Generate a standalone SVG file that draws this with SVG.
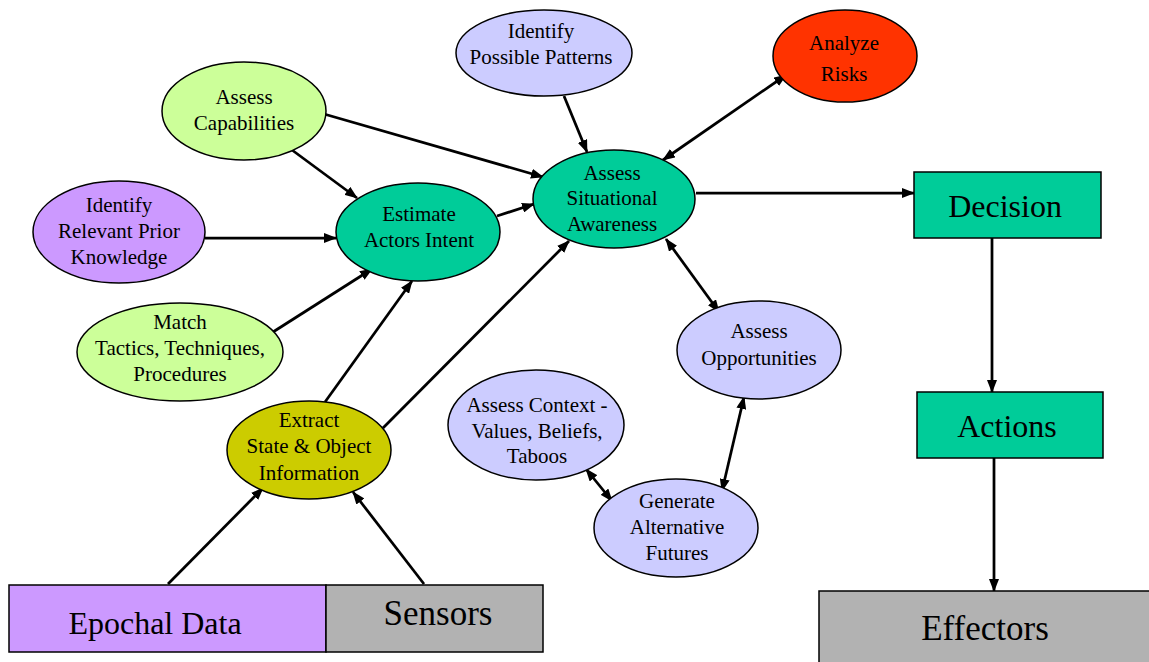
<svg xmlns="http://www.w3.org/2000/svg" width="1149" height="662" viewBox="0 0 1149 662">
  <style>
    .n { stroke: #000; stroke-width: 1.5; }
    .t { font-family: "Liberation Serif", "Times New Roman", serif; font-size: 21px; fill: #000; text-anchor: middle; }
    .big { font-size: 32px; }
    .green { fill: #ccff99; }
    .purple { fill: #cc99ff; }
    .teal { fill: #00cc99; }
    .lav { fill: #ccccff; }
    .red { fill: #ff3300; }
    .olive { fill: #cccc00; }
    .gray { fill: #b2b2b2; }
    #connectors line { stroke: #000; stroke-width: 2.75; fill: none; marker-end: url(#arrow); }
    #connectors line.both { marker-start: url(#arrow); }
  </style>
  <defs>
    <marker id="arrow" viewBox="0 0 13 10" refX="12" refY="5" markerWidth="13" markerHeight="10" markerUnits="userSpaceOnUse" orient="auto-start-reverse">
      <path d="M0,0 L13,5 L0,10 z" fill="#000"/>
    </marker>
  </defs>
  <rect width="1149" height="662" fill="#fff"/>

  <g id="connectors">
    <line x1="324" y1="114" x2="543" y2="177"/>
    <line x1="292" y1="150" x2="357" y2="198"/>
    <line x1="205" y1="238" x2="336" y2="238"/>
    <line x1="497" y1="216" x2="534" y2="204"/>
    <line x1="273" y1="332" x2="372" y2="269"/>
    <line x1="325" y1="402" x2="412" y2="281"/>
    <line x1="383" y1="428" x2="569" y2="241"/>
    <line x1="564" y1="96" x2="587" y2="152"/>
    <line class="both" x1="663" y1="160" x2="786" y2="75"/>
    <line x1="696" y1="193" x2="914" y2="193"/>
    <line class="both" x1="666" y1="239" x2="719" y2="312"/>
    <line class="both" x1="744" y1="397" x2="722" y2="491"/>
    <line class="both" x1="586" y1="469" x2="612" y2="501"/>
    <line x1="992" y1="238" x2="992" y2="392"/>
    <line x1="994" y1="458" x2="994" y2="591"/>
    <line x1="168" y1="584" x2="263" y2="488"/>
    <line x1="424" y1="584" x2="353" y2="492"/>
  </g>

  <g id="assess-capabilities">
    <ellipse class="n green" cx="244" cy="111" rx="82" ry="49"/>
    <text class="t" x="244" y="104">Assess</text>
    <text class="t" x="244" y="130">Capabilities</text>
  </g>
  <g id="identify-patterns">
    <ellipse class="n lav" cx="544" cy="53" rx="88" ry="43"/>
    <text class="t" x="541" y="38">Identify</text>
    <text class="t" x="541" y="64">Possible Patterns</text>
  </g>
  <g id="analyze-risks">
    <ellipse class="n red" cx="845" cy="56" rx="72" ry="46"/>
    <text class="t" x="844" y="50">Analyze</text>
    <text class="t" x="844" y="81">Risks</text>
  </g>
  <g id="situational-awareness">
    <ellipse class="n teal" cx="614" cy="199" rx="81" ry="49"/>
    <text class="t" x="612" y="180">Assess</text>
    <text class="t" x="612" y="205">Situational</text>
    <text class="t" x="612" y="231">Awareness</text>
  </g>
  <g id="actors-intent">
    <ellipse class="n teal" cx="418" cy="232" rx="82" ry="49"/>
    <text class="t" x="419" y="221">Estimate</text>
    <text class="t" x="419" y="247">Actors Intent</text>
  </g>
  <g id="prior-knowledge">
    <ellipse class="n purple" cx="119" cy="232" rx="86" ry="51"/>
    <text class="t" x="119" y="212">Identify</text>
    <text class="t" x="119" y="238">Relevant Prior</text>
    <text class="t" x="119" y="264">Knowledge</text>
  </g>
  <g id="match-ttp">
    <ellipse class="n green" cx="180" cy="352" rx="103" ry="49"/>
    <text class="t" x="180" y="329">Match</text>
    <text class="t" x="180" y="355">Tactics, Techniques,</text>
    <text class="t" x="180" y="381">Procedures</text>
  </g>
  <g id="extract-state">
    <ellipse class="n olive" cx="309" cy="450" rx="82" ry="49"/>
    <text class="t" x="309" y="427">Extract</text>
    <text class="t" x="309" y="453">State &amp; Object</text>
    <text class="t" x="309" y="480">Information</text>
  </g>
  <g id="assess-context">
    <ellipse class="n lav" cx="536" cy="425" rx="88" ry="55"/>
    <text class="t" x="537" y="412">Assess Context -</text>
    <text class="t" x="537" y="438">Values, Beliefs,</text>
    <text class="t" x="537" y="463">Taboos</text>
  </g>
  <g id="alternative-futures">
    <ellipse class="n lav" cx="676" cy="528" rx="82" ry="49"/>
    <text class="t" x="677" y="508">Generate</text>
    <text class="t" x="677" y="534">Alternative</text>
    <text class="t" x="677" y="560">Futures</text>
  </g>
  <g id="assess-opportunities">
    <ellipse class="n lav" cx="759" cy="350" rx="82" ry="49"/>
    <text class="t" x="759" y="338">Assess</text>
    <text class="t" x="759" y="365">Opportunities</text>
  </g>

  <g id="decision">
    <rect class="n teal" x="914" y="172" width="187" height="66"/>
    <text class="t big" x="1005" y="217">Decision</text>
  </g>
  <g id="actions">
    <rect class="n teal" x="917" y="392" width="186" height="66"/>
    <text class="t big" x="1007" y="437">Actions</text>
  </g>
  <g id="effectors">
    <rect class="n gray" x="819" y="591" width="340" height="80"/>
    <text class="t big" x="985" y="640" style="font-size:35px">Effectors</text>
  </g>
  <g id="epochal-data">
    <rect class="n purple" x="9" y="585" width="317" height="67"/>
    <text class="t big" x="155" y="634">Epochal Data</text>
  </g>
  <g id="sensors">
    <rect class="n gray" x="326" y="585" width="217" height="67"/>
    <text class="t big" x="438" y="625" style="font-size:35px">Sensors</text>
  </g>
</svg>
